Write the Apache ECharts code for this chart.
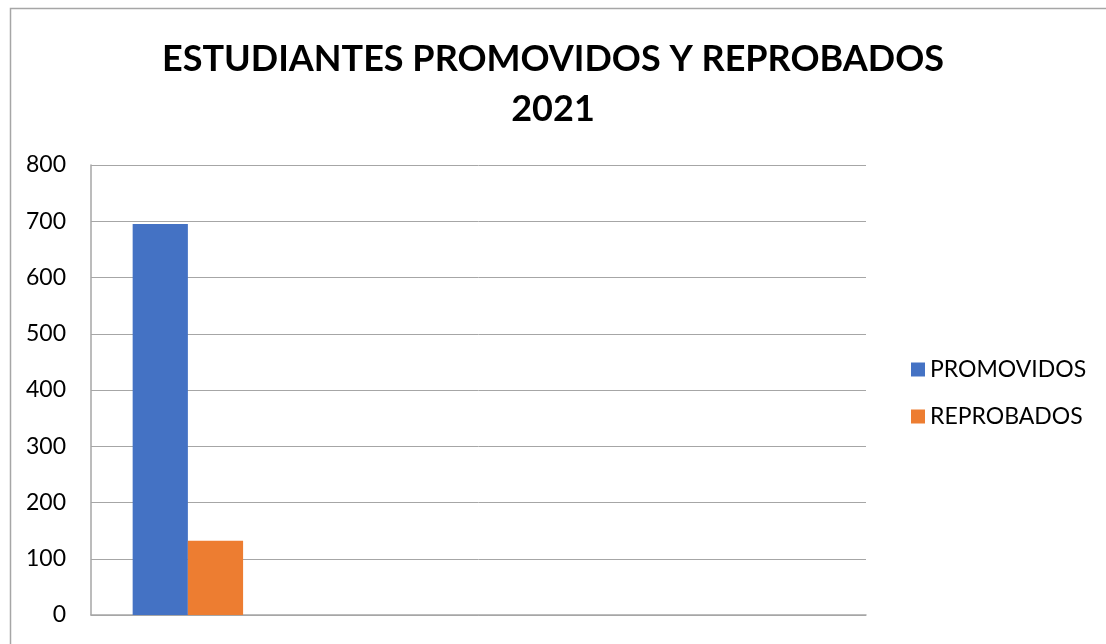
<!DOCTYPE html>
<html>
<head>
<meta charset="utf-8">
<script src="https://cdn.jsdelivr.net/npm/echarts@6/dist/echarts.min.js"></script>
<style>html,body{margin:0;padding:0;background:#fff}#c{width:1106px;height:644px}</style>
</head>
<body>
<div id="c"></div>
<script>
const categories = ['', '', '', ''];
const promovidos = [695, null, null, null];
const reprobados = [132, null, null, null];
const seriesNames = ['PROMOVIDOS', 'REPROBADOS'];
const titleText = 'ESTUDIANTES PROMOVIDOS Y REPROBADOS\n2021';

const FONT = 'Lato, "Open Sans", sans-serif';
const chart = echarts.init(document.getElementById('c'));
chart.setOption({
  animation: false,
  backgroundColor: '#fff',
  graphic: [{
    type: 'rect', left: 8, top: 6, silent: true,
    shape: { width: 1110, height: 700 },
    style: { fill: 'none', stroke: '#A6A6A6', lineWidth: 1.5 }
  }],
  title: {
    text: titleText, left: 'center', top: 29,
    textStyle: { fontFamily: FONT, fontWeight: 'bold', fontSize: 36, lineHeight: 50, color: '#000' }
  },
  legend: {
    orient: 'vertical', left: 906, top: 353,
    itemWidth: 14, itemHeight: 14, itemGap: 24,
    icon: 'rect',
    textStyle: { fontFamily: FONT, fontSize: 23, color: '#000' },
    data: seriesNames
  },
  grid: { left: 91, right: 240, top: 165, bottom: 29 },
  xAxis: {
    type: 'category', data: categories,
    axisLine: { lineStyle: { color: '#A6A6A6', width: 1.5 } },
    axisTick: { show: false }, axisLabel: { show: false }
  },
  yAxis: {
    type: 'value', min: 0, max: 800, interval: 100,
    axisLine: { show: true, lineStyle: { color: '#A6A6A6', width: 1.5 } },
    axisTick: { show: false },
    splitLine: { lineStyle: { color: '#A6A6A6', width: 1 } },
    axisLabel: { fontFamily: FONT, fontSize: 23, color: '#000', margin: 25 }
  },
  series: [
    { name: seriesNames[0], type: 'bar', data: promovidos, itemStyle: { color: '#4472C4' }, barGap: '0%', barCategoryGap: '43%' },
    { name: seriesNames[1], type: 'bar', data: reprobados, itemStyle: { color: '#ED7D31' }, barGap: '0%', barCategoryGap: '43%' }
  ]
});
</script>
</body>
</html>
